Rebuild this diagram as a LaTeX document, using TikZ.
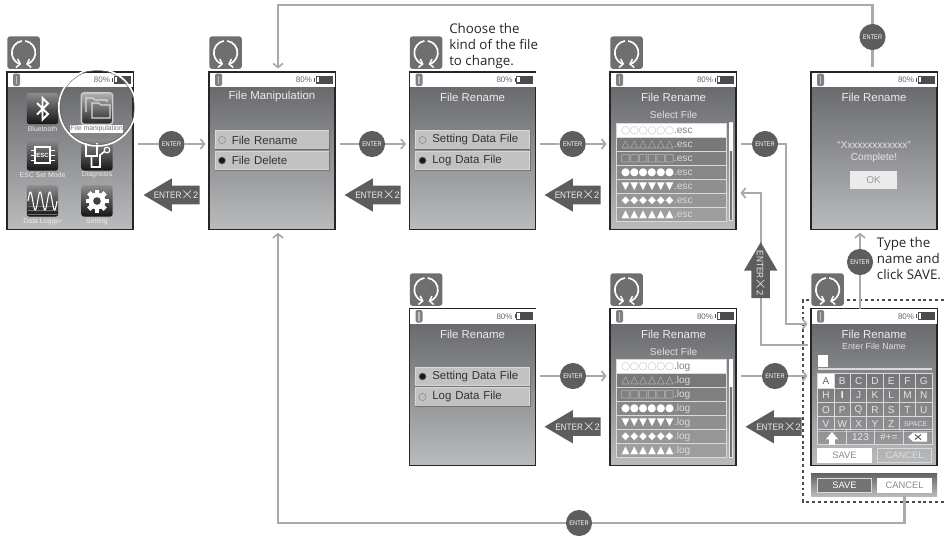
\documentclass[tikz,border=0pt]{standalone}
\usepackage{fontspec}
\usepackage{graphicx}
\usetikzlibrary{arrows.meta,shapes.arrows}
\setmainfont{Liberation Sans}
\newfontfamily\notefont{Open Sans}
\newfontfamily\symbfont{DejaVu Sans}
\definecolor{flowgray}{HTML}{A9AAAC}
\definecolor{darkdisc}{HTML}{5C5D5F}
\definecolor{iconbox}{HTML}{6E6F71}
\definecolor{topgray}{HTML}{616265}
\definecolor{lowgray}{HTML}{BABBBD}
\definecolor{softline}{HTML}{D9DADC}
\tikzset{
  flow/.style={draw=flowgray,line width=1.9pt,shorten <=3.4pt},
  flowin/.style={draw=flowgray,line width=1.9pt,-{Straight Barb[length=3pt,width=7.5pt,line width=1.3pt]},shorten >=2.6pt},
  screen/.style={draw=black!85,line width=0.8pt,inner sep=0pt,outer sep=0pt,minimum width=94.5pt,minimum height=118pt,top color=topgray,bottom color=lowgray,anchor=north west},
  rotbox/.style={fill=iconbox,rounded corners=2.2pt,inner sep=0pt,minimum size=24.5pt,anchor=north west},
  rotarc/.style={draw=white,line width=1.25pt,-{Straight Barb[length=2.6pt,width=6.5pt,line width=1.1pt]}},
  enter/.style={circle,fill=darkdisc,text=white,inner sep=0pt,minimum size=19.6pt,font=\fontsize{5}{6}\selectfont},
  backarrow/.style={single arrow,fill=darkdisc,inner sep=6.75pt,minimum height=42pt,single arrow head extend=5.6pt,single arrow tip angle=61,shape border rotate=180,anchor=tip},
  arrowtext/.style={text=white!92!black,inner sep=0pt,font=\fontsize{7}{8}\selectfont},
  title/.style={text=white!92!black,inner sep=0pt,font=\fontsize{8.6}{10}\selectfont},
  subtitle/.style={text=white!88!black,inner sep=0pt,font=\fontsize{7.6}{9}\selectfont},
  note/.style={anchor=west,align=left,inner sep=0pt,text=black!85,font=\notefont\fontsize{10}{12}\selectfont},
  optbtn/.style={draw=white!85!black,line width=0.7pt,fill=white!76!black,inner xsep=0pt,inner ysep=0pt,text width=85.5pt,minimum height=13.6pt,align=left,text=black!80,font=\fontsize{8.6}{10}\selectfont},
  filerow/.style={draw=softline,line width=0.6pt,inner xsep=3.6pt,inner ysep=0pt,text width=75pt,minimum height=10.5pt,text height=5.6pt,text depth=0.8pt,align=left,font=\fontsize{7.6}{8}\selectfont},
  appicon/.style={inner sep=0pt,minimum size=23.5pt,rounded corners=2pt,top color=black!45,middle color=black!80,bottom color=black!92},
  applabel/.style={text=white!92!black,inner sep=0pt,font=\fontsize{5.2}{6}\selectfont},
  keycap/.style={draw=softline,line width=0.6pt,fill=black,fill opacity=0.13,text opacity=1,text=white!90!black,inner sep=0pt,minimum width=12.2pt,minimum height=10.7pt,font=\fontsize{7.5}{8}\selectfont},
  widekey/.style={keycap,minimum width=21.4pt},
  softkey/.style={draw=softline,line width=0.6pt,inner sep=0pt,minimum width=41pt,minimum height=10.5pt,font=\fontsize{7}{8}\selectfont},
  whitekey/.style={softkey,draw=white,fill=white,text=black!45},
}
\newcommand{\entertwo}{\scalebox{.88}[1]{ENTER}\hspace*{-0.7pt}\scalebox{1.6}{$\times$}\hspace*{-0.7pt}2}
\newcommand{\enterword}{\scalebox{.85}[1]{ENTER}}
\newcommand{\onemark}[1]{\makebox[6.6pt]{#1}}
% status bar of one screen: name, left, top
\newcommand{\screenat}[3]{
  \node[screen] (#1) at (#2,#3) {};
  \begin{scope}[shift={(#1.north west)}]
    \fill[white] (0.6,0.6) rectangle (126.4,15);
    \fill[black!50,rounded corners=1.5pt] (6,1.5) rectangle (13,14);
    \fill[black!25] (8.8,3.5) rectangle (10.2,12);
    \node[inner sep=0pt,text=black!60,font=\fontsize{6}{7}\selectfont] (#1Pct) at (95,8) {80\%};
    \fill[black!70] (105,5.6) rectangle (106.4,9.6);
    \draw[black!70,line width=0.5pt,fill=black!70] (107,4) rectangle (123,11);
    \fill[white] (107.8,4.8) rectangle (110,10.2);
  \end{scope}
}
% the rotary knob icon: name, left, top
\newcommand{\rotaryat}[3]{
  \node[rotbox] (#1) at (#2,#3) {};
  \draw[rotarc] ([shift={(262:11.8)}]#1.center) arc (262:102:11.8);
  \draw[rotarc] ([shift={(-82:11.8)}]#1.center) arc (-82:78:11.8);
}
% one option button: name, x, y, radio colour, text
\newcommand{\optionat}[5]{
  \node[optbtn] (#1) at (#2,#3) {\hspace*{12.6pt}#5};
  \draw[black!55,line width=0.7pt] (#1.south west) -- (#1.south east) -- (#1.north east);
  \fill[#4,draw=black!45,line width=0.4pt] ([xshift=5.6pt]#1.west) circle (3.6);
}
% file list with scroll bar: name, left, top, extension
\newcommand{\filelist}[4]{
  \foreach \rowmark/\rowfill/\rowtext/\rowext [count=\n from 0] in
    {○/white/black!22/black!50,△/black!53/white!75!black/white!85!black,□/black!50/white!75!black/white!85!black,●/black!47/white/white!85!black,▼/black!44/white/white!85!black,◆/black!41/white/white!85!black,▲/black!38/white/white!85!black}
    \node[filerow,fill=\rowfill,anchor=north west] (#1row\n) at (#2,{#3+14*\n}) {{\symbfont\fontsize{7.8}{8}\selectfont\color{\rowtext}\onemark{\rowmark}\onemark{\rowmark}\onemark{\rowmark}\onemark{\rowmark}\onemark{\rowmark}\onemark{\rowmark}}\textcolor{\rowext}{#4}};
  \draw[white!90!black,line width=0.6pt,fill=black!55] (#2+113,#3) rectangle (#2+116.5,#3+98);
  \fill[white] (#2+113,#3) rectangle (#2+116.5,#3+28);
}
\begin{document}
\begin{tikzpicture}[x=0.75pt,y=0.75pt,yscale=-1,xscale=1]
\useasboundingbox (0,0) rectangle (944,537);

%Shape: dashed frame round the name screen
\draw [black!70,line width=0.8pt,dash pattern={on 2.2pt off 2.2pt}] (944,300) -- (803,300) -- (803,502) -- (944,502);

%Shape: Screens
\screenat{homeScreen}{7}{72}
\screenat{manipScreen}{209}{72}
\screenat{renameScreen}{409.5}{72}
\screenat{selectScreen}{610}{72}
\screenat{doneScreen}{811}{72}
\screenat{renameLogScreen}{409.5}{308.5}
\screenat{selectLogScreen}{610}{308.5}
\screenat{nameScreen}{811}{308.5}
\node[screen,draw=none,minimum height=17.25pt] (softKeys) at (811,473) {};

%Shape: Knob icons
\rotaryat{knobA}{7}{36}
\rotaryat{knobB}{209}{36}
\rotaryat{knobC}{409.5}{36}
\rotaryat{knobD}{610}{36}
\rotaryat{knobE}{409.5}{273}
\rotaryat{knobF}{610}{273}
\rotaryat{knobG}{811}{273}

%Shape: Home screen icons
\node[appicon] (iconBluetooth) at (42.5,108.5) {};
\node[appicon,top color=black!30,middle color=black!60,bottom color=black!85,draw=white!80!black,line width=1pt] (iconFiles) at (97,108.5) {};
\node[appicon] (iconEsc) at (42.5,155) {};
\node[appicon] (iconDiag) at (97,155) {};
\node[appicon] (iconLogger) at (42.5,201) {};
\node[appicon] (iconSetting) at (97,201) {};
\draw[white,line width=1.4pt] (37,103) -- (48,114) -- (42.5,119.5) -- (42.5,98) -- (48,103.5) -- (37,114.5);
\draw[white!85!black,line width=0.8pt] (86,112) -- (86,98) -- (93,98) -- (95,100) -- (107,100) -- (107,102);
\draw[white!85!black,line width=0.8pt] (92,118) -- (92,103) -- (99,103) -- (101,105) -- (110,105) -- (110,118) -- cycle;
\draw[white,line width=0.9pt] (35,147) rectangle (50,163);
\node[inner sep=0pt,text=white,font=\bfseries\fontsize{4.5}{5}\selectfont] (chipText) at (42.5,155) {ESC};
\foreach \yy in {150,155,160} {
  \draw[white,line width=0.7pt] (31,\yy) -- (35,\yy) (50,\yy) -- (55,\yy);
}
\draw[white,line width=1.2pt] (86,143) -- (86,156) -- (97,156) -- (97,143) (91.5,156) -- (91.5,167) -- (100,167) -- (100,155) -- (104.5,151.5);
\draw[white,line width=0.9pt] (107,150) circle (2.8);
\draw[black!55,line width=0.3pt] (28,206) -- (57,206) (28,210) -- (57,210) (28,214) -- (57,214);
\draw[white,line width=0.8pt] plot[domain=0:1,samples=70] ({28+29*\x},{201-9*sin(3*360*\x)});
\foreach \aa in {0,45,...,315} {
  \draw[white,line width=3.6pt] ([shift={(\aa:6)}]iconSetting.center) -- ([shift={(\aa:11.5)}]iconSetting.center);
}
\fill[white] (iconSetting.center) circle (8.5);
\fill[black!75] (iconSetting.center) circle (3.8);
\draw[white,line width=1.2pt] (97.3,107.5) circle (38.5);
\draw[black!60,line width=0.35pt] (97.3,107.5) circle (37);

% Text Node
\node[applabel] (labBluetooth) at (42.5,129) {Bluetooth};
\node[applabel,fill=white,text=black!55,minimum width=39.5pt,minimum height=6pt] (labFiles) at (96.7,129) {File manipulation};
\node[applabel] (labEsc) at (42.5,175) {ESC Set Mode};
\node[applabel] (labDiag) at (97,175) {Diagnosis};
\node[applabel] (labLogger) at (42.5,222) {Data Logger};
\node[applabel] (labSetting) at (97,222) {Setting};

% Text Node
\node[title] (manipTitle) at (272,97) {File Manipulation};
\node[title] (renameTitle) at (472.5,97) {File Rename};
\node[title] (selectTitle) at (673.5,97) {File Rename};
\node[subtitle] (selectSub) at (673.5,115) {Select File};
\node[title] (doneTitle) at (874,97) {File Rename};
\node[title] (renameLogTitle) at (472.5,334) {File Rename};
\node[title] (selectLogTitle) at (673.5,334) {File Rename};
\node[subtitle] (selectLogSub) at (673.5,351.5) {Select File};
\node[title] (nameTitle) at (874,334) {File Rename};
\node[subtitle,font=\fontsize{6.6}{8}\selectfont] (nameSub) at (874,346.7) {Enter File Name};

%Shape: option buttons
\optionat{btnRename}{272}{140}{black!25}{File Rename}
\optionat{btnDelete}{272}{160.5}{black!90}{File Delete}
\optionat{btnSetting}{472.5}{140}{black!25}{Setting Data File}
\optionat{btnLog}{472.5}{160.5}{black!90}{Log Data File}
\optionat{btnLogSetting}{472.5}{376.5}{black!90}{Setting Data File}
\optionat{btnLogLog}{472.5}{397}{black!25}{Log Data File}

%Shape: file lists
\filelist{esc}{616}{122.7}{.esc}
\filelist{log}{616}{359}{.log}

%Shape: complete message
\node[subtitle,text=white!90!black,font=\fontsize{7.5}{9}\selectfont] (msgName) at (874,144.7) {“Xxxxxxxxxxxxx”};
\node[subtitle,text=white!90!black] (msgDone) at (874,157.5) {Complete!};
\node[inner sep=0pt,minimum width=35.5pt,minimum height=13.5pt,fill=white!92!black,text=black!40,font=\fontsize{7.5}{9}\selectfont] (okKey) at (873.5,180) {OK};

%Shape: keyboard
\fill[white] (818,355) rectangle (828,367);
\draw[softline,line width=1.4pt] (818,368.7) -- (932,368.7);
\node[keycap,fill=white,fill opacity=1,text=black!60] (keyA) at (826,381) {A};
\foreach \k [count=\i from 1] in {B,C,D,E,F,G} {
  \node[keycap] (key\k) at ({826+16.3*\i},381) {\k};
}
\node[keycap] (keyH) at (826,395.4) {H};
\node[keycap,text=white,font=\bfseries\fontsize{7.5}{8}\selectfont] (keyI) at (842.3,395.4) {I};
\foreach \k [count=\i from 2] in {J,K,L,M,N} {
  \node[keycap] (key\k) at ({826+16.3*\i},395.4) {\k};
}
\foreach \k [count=\i from 0] in {O,P,Q,R,S,T,U} {
  \node[keycap] (key\k) at ({826+16.3*\i},409.7) {\k};
}
\foreach \k [count=\i from 0] in {V,W,X,Y,Z} {
  \node[keycap] (key\k) at ({826+16.3*\i},424) {\k};
}
\node[keycap,minimum width=24.4pt,font=\fontsize{5.2}{6}\selectfont] (keySpace) at (915.7,424) {SPACE};
\node[widekey] (keyShift) at (832,437) {};
\node[widekey] (keyNum) at (860.5,437) {123};
\node[widekey] (keySym) at (889,437) {\#+=};
\node[widekey] (keyDel) at (917.7,437) {};
\node[single arrow,fill=white,inner sep=2pt,minimum height=9.5pt,single arrow head extend=2.5pt,single arrow tip angle=80,shape border rotate=90,anchor=tip] (keyShiftArrow) at (832,431.5) {};
\fill[white] (908,437) -- (913,432.5) -- (927,432.5) -- (927,441.5) -- (913,441.5) -- cycle;
\draw[black!60,line width=0.8pt] (915,434.5) -- (921,439.5) (915,439.5) -- (921,434.5);
\node[whitekey] (saveKey) at (844.5,455) {SAVE};
\node[softkey,text=white!88!black] (cancelKey) at (904.5,455) {CANCEL};
\node[softkey,text=white,fill=black!55] (softSave) at (844.5,485) {SAVE};
\node[whitekey] (softCancel) at (904.5,485) {CANCEL};

% ENTER discs
\node[enter] (enterA) at (171.5,144) {\enterword};
\node[enter] (enterB) at (372,144) {\enterword};
\node[enter] (enterC) at (572.7,144) {\enterword};
\node[enter] (enterD) at (765,144) {\enterword};
\node[enter] (enterE) at (573,376) {\enterword};
\node[enter] (enterF) at (775,376) {\enterword};
\node[enter] (enterG) at (860,262) {\enterword};
\node[enter] (enterH) at (872.5,37) {\enterword};
\node[enter] (enterI) at (579,523) {\enterword};

%Straight Lines
\coordinate (bendD) at (786,324);
\coordinate (bendBack) at (761,345);
\coordinate (backTip) at (737,193);
\coordinate (bendH) at (278,5);
\coordinate (bendI) at (278,523);
\draw[flow] (homeScreen.east |- enterA) -- (enterA);
\draw[flowin] (enterA) -- (manipScreen.west |- enterA);
\draw[flow] (manipScreen.east |- enterB) -- (enterB);
\draw[flowin] (enterB) -- (renameScreen.west |- enterB);
\draw[flow] (renameScreen.east |- enterC) -- (enterC);
\draw[flowin] (enterC) -- (selectScreen.west |- enterC);
\draw[flow] (selectScreen.east |- enterD) -- (enterD);
\draw[flowin] (enterD) -- (bendD |- enterD) -- (bendD) -- (nameScreen.west |- bendD);
\draw[flow] (renameLogScreen.east |- enterE) -- (enterE);
\draw[flowin] (enterE) -- (selectLogScreen.west |- enterE);
\draw[flow] (selectLogScreen.east |- enterF) -- (enterF);
\draw[flowin] (enterF) -- (nameScreen.west |- enterF);
\draw[flow,shorten <=0pt] (nameScreen.north -| enterG) -- (enterG);
\draw[flowin] (enterG) -- (doneScreen.south -| enterG);
\draw[flow] (doneScreen.north -| enterH) -- (enterH);
\draw[flowin] (enterH) |- (bendH) -- (manipScreen.north -| bendH);
\draw[flow,shorten <=0pt] (softKeys.south -| softCancel) |- (enterI);
\draw[flowin] (enterI) -| (manipScreen.south -| bendI);
\draw[flowin,shorten <=2.4pt] (nameScreen.west |- bendBack) -- (bendBack) -- (bendBack |- backTip) -- (backTip);

%Block arrows
\node[backarrow] (backA) at (143,195) {};
\node[arrowtext] (backAText) at (176,195) {\entertwo};
\node[backarrow] (backB) at (344,195) {};
\node[arrowtext] (backBText) at (377.5,195) {\entertwo};
\node[backarrow] (backC) at (544,195) {};
\node[arrowtext] (backCText) at (577,195) {\entertwo};
\node[backarrow] (backD) at (544,426.7) {};
\node[arrowtext] (backDText) at (577.5,426.7) {\entertwo};
\node[backarrow] (backE) at (745,426.7) {};
\node[arrowtext] (backEText) at (778.5,426.7) {\entertwo};
\node[backarrow,shape border rotate=90] (backF) at (760.7,241.7) {};
\node[arrowtext,rotate=-90] (backFText) at (760.7,273) {\entertwo};

% Text Node
\node[note] (noteKind) at (449,46) {Choose the\\kind of the file\\to change.};
\node[note] (noteType) at (876.7,258.7) {Type the\\name and\\click SAVE.};

\end{tikzpicture}
\end{document}
